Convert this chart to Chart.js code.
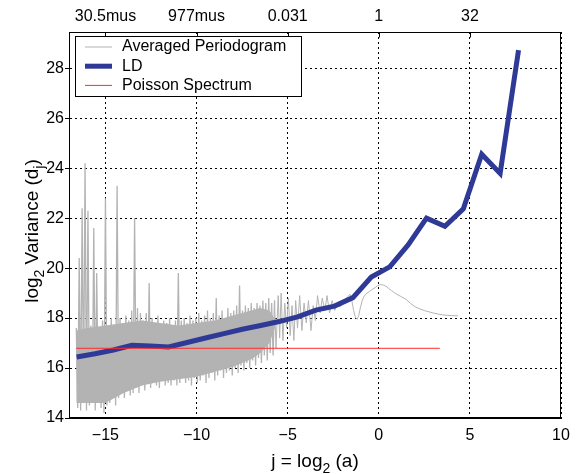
<!DOCTYPE html>
<html>
<head>
<meta charset="utf-8">
<script src="https://cdn.jsdelivr.net/npm/chart.js@4.4.1/dist/chart.umd.min.js"></script>
<style>
  html, body { margin: 0; padding: 0; background: #fff; }
</style>
</head>
<body>
<canvas id="chart" width="581" height="474"></canvas>
<script>
// LD (log-diagram) points, j = log2(scale)
const ldJ = [-16.58, -15.57, -14.56, -13.55, -12.54, -11.53, -10.52, -9.51, -8.50, -7.49,
  -6.48, -5.47, -4.46, -3.45, -2.43, -1.42, -0.41, 0.60, 1.61, 2.62,
  3.63, 4.64, 5.65, 6.66, 7.67];
const ldLog2Var = [16.44, 16.57, 16.72, 16.91, 16.88, 16.84, 17.02, 17.2, 17.38, 17.55,
  17.7, 17.86, 18.05, 18.32, 18.48, 18.82, 19.64, 20.05, 20.93, 22.0,
  21.67, 22.37, 24.56, 23.79, 28.72];

// Poisson spectrum level
const poissonJ = [-16.6, 3.35];
const poissonLog2Var = [16.79, 16.79];

// averaged periodogram (band top / bottom alternately)
const periodogramJ = [
  -16.60, -16.52, -16.44, -16.36, -16.28, -16.20, -16.12, -16.04, -15.96, -15.88,
  -15.80, -15.72, -15.64, -15.56, -15.48, -15.40, -15.32, -15.24, -15.16, -15.08,
  -15.00, -14.92, -14.84, -14.76, -14.68, -14.60, -14.52, -14.44, -14.36, -14.28,
  -14.20, -14.12, -14.04, -13.96, -13.88, -13.80, -13.72, -13.64, -13.56, -13.48,
  -13.40, -13.32, -13.24, -13.16, -13.08, -13.00, -12.92, -12.84, -12.76, -12.68,
  -12.60, -12.52, -12.44, -12.36, -12.28, -12.20, -12.12, -12.04, -11.96, -11.88,
  -11.80, -11.72, -11.64, -11.56, -11.48, -11.40, -11.32, -11.24, -11.16, -11.08,
  -11.00, -10.92, -10.84, -10.76, -10.68, -10.60, -10.52, -10.44, -10.36, -10.28,
  -10.20, -10.12, -10.04, -9.96, -9.88, -9.80, -9.72, -9.64, -9.56, -9.48,
  -9.40, -9.32, -9.24, -9.16, -9.08, -9.00, -8.92, -8.84, -8.76, -8.68,
  -8.60, -8.52, -8.44, -8.36, -8.28, -8.20, -8.12, -8.04, -7.96, -7.88,
  -7.80, -7.72, -7.64, -7.56, -7.48, -7.40, -7.32, -7.24, -7.16, -7.08,
  -7.00, -6.92, -6.84, -6.76, -6.68, -6.60, -6.52, -6.44, -6.36, -6.28,
  -6.20, -6.12, -6.04, -5.96, -5.88, -5.80, -5.72, -5.64,
  -5.52, -5.44, -5.36, -5.26, -5.16, -5.06, -4.96, -4.86, -4.76, -4.66,
  -4.56, -4.46, -4.34, -4.22, -4.10, -3.98, -3.86, -3.72, -3.60, -3.48,
  -3.36, -3.22, -3.10, -2.96, -2.84, -2.70, -2.56, -2.42, -2.28,
  -2.14, -2.00, -1.86, -1.72, -1.58, -1.48, -1.38, -1.28, -1.19, -1.10,
  -1.00, -0.90, -0.80, -0.65, -0.50, -0.35, -0.20, -0.05, 0.10, 0.25,
  0.40, 0.55, 0.70, 0.85, 1.00, 1.25, 1.50, 1.75, 2.00, 2.25,
  2.50, 2.75, 3.00, 3.25, 3.50, 3.75, 4.00, 4.35
];
const periodogramLog2Var = [
  17.6, 14.4, 20.4, 14.3, 22.4, 14.7, 24.2, 14.3, 22.3, 14.5,
  17.7, 14.6, 21.6, 14.3, 19.8, 14.8, 17.6, 14.4, 17.9, 14.2,
  22.8, 14.5, 17.5, 14.6, 18.0, 14.9, 17.7, 14.5, 23.3, 14.8,
  18.0, 15.0, 17.8, 14.8, 18.1, 15.1, 17.9, 14.9, 18.3, 15.0,
  22.0, 15.2, 18.4, 15.0, 18.2, 15.3, 17.9, 15.1, 18.2, 15.4,
  19.4, 15.2, 18.0, 15.5, 17.8, 15.3, 18.1, 15.2, 17.7, 15.5,
  17.9, 15.3, 17.8, 15.4, 18.0, 15.3, 17.7, 15.5, 17.9, 15.3,
  19.8, 15.4, 17.9, 15.6, 18.0, 15.4, 17.8, 15.5, 18.1, 15.3,
  17.9, 15.6, 18.0, 15.4, 18.2, 15.5, 17.9, 15.7, 18.1, 15.4,
  18.3, 15.6, 18.0, 15.8, 18.2, 15.5, 18.8, 15.7, 18.1, 15.9,
  18.3, 15.6, 18.0, 15.8, 18.4, 15.9, 18.2, 15.7, 18.3, 16.0,
  18.5, 15.8, 19.3, 16.1, 18.3, 15.9, 18.5, 16.2, 18.4, 16.0,
  18.6, 16.3, 18.4, 16.1, 18.6, 16.4, 18.5, 16.2, 18.7, 16.5,
  18.6, 16.3, 18.8, 16.6, 18.6, 16.5, 18.7, 16.8,
  18.9, 17.2, 19.0, 17.1, 18.6, 17.6, 18.8, 17.3, 18.5, 17.1,
  18.7, 17.6, 18.9, 17.5, 18.6, 17.8, 18.7, 17.5, 18.5, 17.9,
  18.9, 18.2, 18.8, 18.3, 18.9, 18.2, 18.7, 18.3, 18.6,
  18.45, 18.55, 18.7, 18.85, 18.95, 18.7, 18.3, 18.02, 17.95, 18.1,
  18.45, 18.72, 18.88, 19.0, 19.07, 19.15, 19.22, 19.3, 19.34, 19.32,
  19.27, 19.18, 19.1, 19.02, 18.95, 18.85, 18.75, 18.58, 18.45, 18.37,
  18.3, 18.25, 18.2, 18.16, 18.13, 18.11, 18.1, 18.09
];

// solid core of the periodogram band (where the trace is too dense to separate)
const bandCoreJ = [-16.6, -16.0, -15.0, -14.0, -13.0, -12.0, -11.0, -10.0, -9.0, -8.0, -7.0, -6.5, -6.0, -5.7];
const bandCoreLow = [14.6, 14.6, 14.6, 15.0, 15.3, 15.45, 15.55, 15.65, 15.85, 16.05, 16.35, 16.6, 17.0, 17.6];
const bandCoreHigh = [17.5, 17.6, 17.7, 17.8, 17.9, 17.8, 17.7, 17.8, 17.9, 18.1, 18.3, 18.4, 18.3, 17.95];

// axes
const xTicks = [-15, -10, -5, 0, 5, 10];
const yTicks = [14, 16, 18, 20, 22, 24, 26, 28];
const topTicks = [-15, -10, -5, 0, 5];
const topTickLabels = ['30.5mus', '977mus', '0.031', '1', '32'];
const xTitleParts = [{ text: 'j = log' }, { text: '2', sub: true }, { text: ' (a)' }];
const yTitleParts = [{ text: 'log' }, { text: '2', sub: true }, { text: ' Variance (d' }, { text: 'j', sub: true }, { text: ')' }];

const FONT = 'Helvetica, Arial, "Liberation Sans", sans-serif';
const GRAY = '#b3b3b3';
Chart.defaults.font.family = FONT;
Chart.defaults.color = '#000';

function toPoints(xs, ys) {
  return xs.map((x, i) => ({ x: x, y: ys[i] }));
}

function fmtTick(v) {
  return v < 0 ? '\u2212' + Math.abs(v) : String(v);
}

// text with subscripts, centred on (x, y) baseline
function drawRichText(ctx, parts, size, x, y, angle) {
  const subSize = Math.round(size * 0.72);
  let total = 0;
  parts.forEach(p => {
    ctx.font = (p.sub ? subSize : size) + 'px ' + FONT;
    p.w = ctx.measureText(p.text).width;
    total += p.w;
  });
  ctx.save();
  ctx.translate(x, y);
  ctx.rotate(angle);
  ctx.textAlign = 'left';
  ctx.textBaseline = 'alphabetic';
  ctx.fillStyle = '#000';
  let cx = -total / 2;
  parts.forEach(p => {
    ctx.font = (p.sub ? subSize : size) + 'px ' + FONT;
    ctx.fillText(p.text, cx, p.sub ? size * 0.32 : 0);
    cx += p.w;
  });
  ctx.restore();
}

const extras = {
  id: 'extras',
  afterDraw(chart) {
    const { ctx, chartArea: a, scales } = chart;
    ctx.save();
    // box round the axes
    ctx.strokeStyle = '#000';
    ctx.lineWidth = 1;
    const l = Math.round(a.left) + 0.5, t = Math.round(a.top) + 0.5;
    const r = Math.round(a.right) - 0.5, b = Math.round(a.bottom) - 0.5;
    ctx.strokeRect(l, t, r - l, b - t);
    // inward ticks on the top axis
    ctx.beginPath();
    topTicks.forEach(v => {
      const px = Math.round(scales.xTop.getPixelForValue(v)) + 0.5;
      ctx.moveTo(px, t);
      ctx.lineTo(px, t + 5);
    });
    ctx.stroke();

    // legend
    const box = { x: 75.5, y: 36.5, w: 226, h: 60 };
    ctx.fillStyle = '#fff';
    ctx.fillRect(box.x, box.y, box.w, box.h);
    ctx.strokeRect(box.x, box.y, box.w, box.h);
    ctx.font = '16px ' + FONT;
    ctx.textBaseline = 'middle';
    ctx.textAlign = 'left';
    chart.data.datasets.filter(ds => !ds.noLegend).forEach((ds, i) => {
      const yy = box.y + 10.5 + i * 19.2;
      ctx.strokeStyle = ds.borderColor;
      ctx.lineWidth = ds.borderWidth;
      ctx.beginPath();
      ctx.moveTo(85, yy);
      ctx.lineTo(112, yy);
      ctx.stroke();
      ctx.fillStyle = '#000';
      ctx.fillText(ds.label, 122, yy);
    });

    // axis titles
    drawRichText(ctx, xTitleParts, 19, (a.left + a.right) / 2, 467, 0);
    drawRichText(ctx, yTitleParts, 19, 38, 231, -Math.PI / 2);
    ctx.restore();
  }
};

new Chart(document.getElementById('chart').getContext('2d'), {
  type: 'line',
  data: {
    datasets: [
      {
        label: 'Averaged Periodogram',
        data: toPoints(periodogramJ, periodogramLog2Var),
        borderColor: GRAY,
        borderWidth: 1,
        segment: {
          borderWidth: c => (periodogramJ[c.p1DataIndex] <= bandCoreJ[bandCoreJ.length - 1] ? 1.3 : 1),
        },
        order: 3,
      },
      {
        label: 'LD',
        data: toPoints(ldJ, ldLog2Var),
        borderColor: '#2f3996',
        borderWidth: 5,
        order: 2,
      },
      {
        label: 'Poisson Spectrum',
        data: toPoints(poissonJ, poissonLog2Var),
        borderColor: '#ff2b2b',
        borderWidth: 1,
        order: 1,
      },
      {
        label: 'band top',
        noLegend: true,
        data: toPoints(bandCoreJ, bandCoreHigh),
        borderWidth: 0,
        borderColor: GRAY,
        backgroundColor: GRAY,
        fill: '+1',
        order: 4,
      },
      {
        label: 'band bottom',
        noLegend: true,
        data: toPoints(bandCoreJ, bandCoreLow),
        borderWidth: 0,
        borderColor: GRAY,
        fill: false,
        order: 4,
      },
    ],
  },
  options: {
    responsive: false,
    animation: false,
    layout: { padding: { left: 0, right: 20, top: 0, bottom: 0 } },
    elements: { point: { radius: 0 }, line: { tension: 0 } },
    plugins: { legend: { display: false }, tooltip: { enabled: false } },
    scales: {
      x: {
        type: 'linear',
        position: 'bottom',
        min: -17,
        max: 10,
        afterBuildTicks: s => { s.ticks = xTicks.map(v => ({ value: v })); },
        afterFit: s => { s.height = 56; },
        grid: { color: '#000', lineWidth: 1, drawTicks: false },
        border: { display: true, color: '#000', width: 1, dash: [2, 3] },
        ticks: { font: { size: 16 }, padding: 8, maxRotation: 0, autoSkip: false, callback: v => fmtTick(v) },
      },
      xTop: {
        type: 'linear',
        position: 'top',
        min: -17,
        max: 10,
        afterBuildTicks: s => { s.ticks = topTicks.map(v => ({ value: v })); },
        afterFit: s => { s.height = 32; },
        grid: { drawOnChartArea: false, drawTicks: false },
        border: { display: true, color: '#000' },
        ticks: { font: { size: 16 }, padding: 6, maxRotation: 0, autoSkip: false,
          callback: v => topTickLabels[topTicks.indexOf(v)] },
      },
      y: {
        type: 'linear',
        min: 14,
        max: 29.45,
        afterBuildTicks: s => { s.ticks = yTicks.map(v => ({ value: v })); },
        afterFit: s => { s.width = 69; },
        grid: { color: '#000', lineWidth: 1, drawTicks: true, tickLength: 4, tickColor: '#000' },
        border: { display: true, color: '#000', width: 1, dash: [2, 3] },
        ticks: { font: { size: 16 }, padding: 1 },
      },
    },
  },
  plugins: [extras],
});
</script>
</body>
</html>
